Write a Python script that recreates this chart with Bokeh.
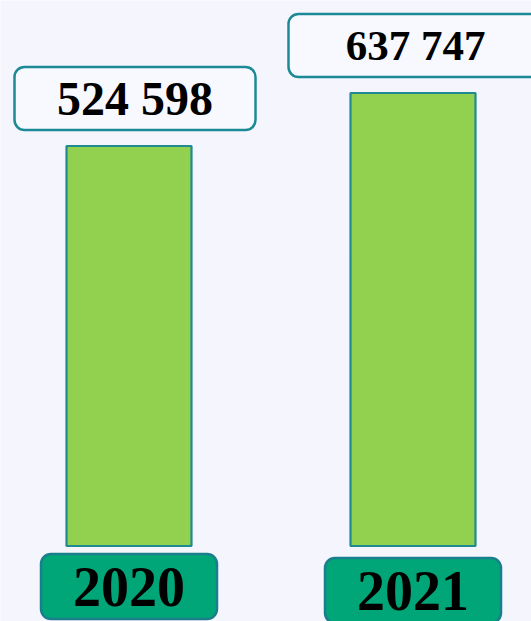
from bokeh.plotting import figure
from bokeh.models import ColumnDataSource, Range1d
from bokeh.core.properties import value
from bokeh.embed import file_html
from bokeh.resources import INLINE

# ---- data ----
years = ["2020", "2021"]
values = [524598, 637747]
value_labels = ["524 598", "637 747"]
positions = [0, 1]

# ---- layout / styles ----
W, H = 531, 621
PX_X = 284.0                 # pixels per x unit
KY = 53.0 / 113149.0         # pixels per value unit
BASE = -329350               # bar baseline value
BASE_PX = 545.5              # baseline pixel row from top

x_start = -128.5 / PX_X
x_end = x_start + W / PX_X
y_end = BASE + BASE_PX / KY
y_start = BASE - (H - BASE_PX) / KY

BG = "#f5f5fd"
BAR_FILL = "#92d050"
BAR_LINE = "#1f8a92"
BOX_LINE = "#1b8a96"
YEAR_FILL = "#00a677"
YEAR_LINE = "#1a7f8c"
FONT = "Liberation Serif"

p = figure(width=W, height=H, output_backend="svg", toolbar_location=None,
           x_range=Range1d(x_start, x_end), y_range=Range1d(y_start, y_end),
           min_border=0, min_border_left=0, min_border_right=0,
           min_border_top=0, min_border_bottom=0)
p.axis.visible = False
p.grid.visible = False
p.outline_line_color = None
p.background_fill_color = BG
p.border_fill_color = BG

# bars
bar_src = ColumnDataSource(dict(x=positions, top=values))
p.vbar(x="x", top="top", bottom=BASE, width=125 / PX_X, source=bar_src,
       fill_color=BAR_FILL, line_color=BAR_LINE, line_width=2.2)

# value label boxes
box_dx = [6, 2.5]
box_w = [241, 254]
gap = 16 / KY
box_h = 63 / KY
vx = [positions[i] + box_dx[i] / PX_X for i in range(2)]
vl = [vx[i] - box_w[i] / 2 / PX_X for i in range(2)]
vr = [vx[i] + box_w[i] / 2 / PX_X for i in range(2)]
vb = [v + gap for v in values]
vt = [v + gap + box_h for v in values]
vy = [v + gap + box_h / 2 for v in values]
p.quad(left=vl, right=vr, bottom=vb, top=vt, fill_color="#f8f8ff",
       line_color=BOX_LINE, line_width=2.5, border_radius=10)
p.text(x=vx, y=vy, text=value_labels, text_align="center", text_baseline="middle",
       text_font=value(FONT), text_font_style="bold",
       text_font_size=["48px", "43px"], text_color="black")

# year boxes
yb_off = [8, 12]
yb_h = 65 / KY
yb_w = 176 / PX_X
yb_top = [BASE - o / KY for o in yb_off]
yb_mid = [t - yb_h / 2 for t in yb_top]
p.quad(left=[x - yb_w / 2 for x in positions], right=[x + yb_w / 2 for x in positions],
       top=yb_top, bottom=[t - yb_h for t in yb_top],
       fill_color=YEAR_FILL, line_color=YEAR_LINE, line_width=2.5, border_radius=10)
p.text(x=positions, y=yb_mid, text=years, text_align="center",
       text_baseline="middle", text_font=value(FONT), text_font_style="bold",
       text_font_size="56px", text_color="black")

open("out.html", "w").write(file_html(p, INLINE))
